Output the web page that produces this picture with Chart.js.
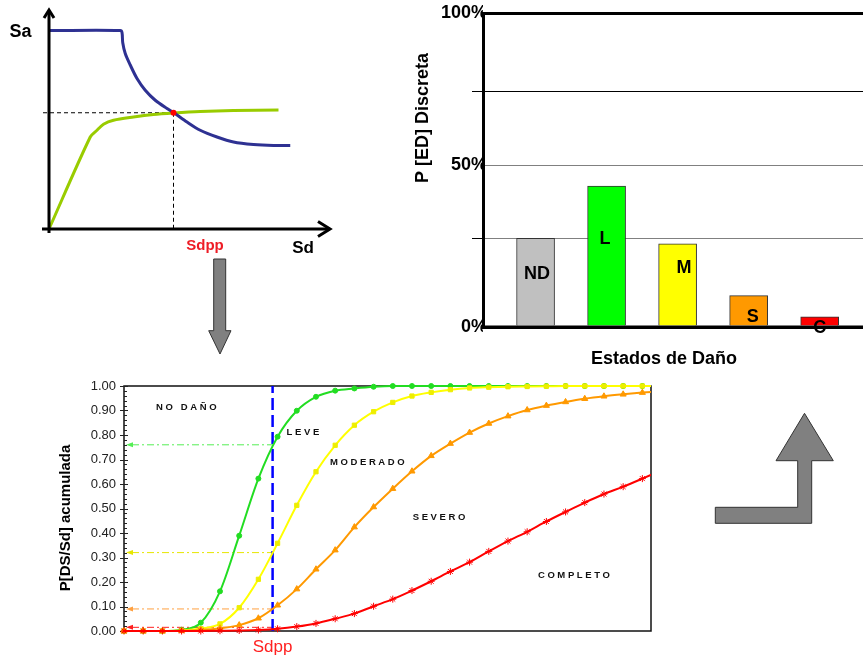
<!DOCTYPE html>
<html>
<head>
<meta charset="utf-8">
<script src="https://cdn.jsdelivr.net/npm/chart.js@4.4.0/dist/chart.umd.min.js"></script>
<style>
  body { margin: 0; background: #fff; }
  #page { position: relative; width: 863px; height: 658px; overflow: hidden; }
  canvas, svg { position: absolute; }
</style>
</head>
<body>
<div id="page">
  <canvas id="espectro" width="340" height="260" style="left:0;top:0"></canvas>
  <canvas id="discreta" width="463" height="375" style="left:400px;top:0"></canvas>
  <canvas id="fragilidad" width="680" height="290" style="left:0;top:370px"></canvas>
  <svg width="863" height="658" style="left:0;top:0;pointer-events:none">
    <polygon points="213.7,259 225.7,259 225.7,330.7 231,330.7 220,354 208.7,330.7 213.7,330.7"
             fill="#808080" stroke="#333" stroke-width="1"/>
    <polygon points="715.3,507.3 797.7,507.3 797.7,460.7 776,460.7 804.5,413.3 833.3,460.7 811.7,460.7 811.7,523.3 715.3,523.3"
             fill="#808080" stroke="#333" stroke-width="1"/>
  </svg>
</div>
<script>
const FONT = '"Liberation Sans", Arial, sans-serif';

// espectro de demanda y curva de capacidad (arriba izq.)
const demandaSd = [0, 2.85, 2.92, 2.95, 3.05, 3.25, 3.52, 3.85, 4.25, 4.72, 4.98, 5.52, 6.05, 6.72, 7.38, 8.18, 8.98, 9.65];
const demandaSa = [7.94, 7.94, 7.86, 7.45, 7.02, 6.56, 6.02, 5.55, 5.15, 4.82, 4.66, 4.28, 3.95, 3.68, 3.48, 3.38, 3.34, 3.34];
const capacidadSd = [0, 1.65, 1.92, 2.18, 2.58, 3.38, 4.18, 4.98, 6.05, 7.38, 9.18];
const capacidadSa = [0, 3.68, 3.95, 4.19, 4.35, 4.48, 4.58, 4.64, 4.70, 4.74, 4.76];
const puntoDesempeno = [4.98, 4.65];

// probabilidad discreta por estado de daño (arriba der.)
const estados = ["ND", "L", "M", "S", "C"];
const pDiscreta = [0.282, 0.449, 0.265, 0.10, 0.032];
const coloresEstado = ["#C0C0C0", "#00FF00", "#FFFF00", "#FF9900", "#FF0000"];
const ticksDiscreta = [0, 0.282, 0.515, 0.751, 1];
const etiquetasDiscreta = ["0%", "", "50%", "", "100%"];

// curvas de fragilidad (abajo)
const sd = [0, 1, 2, 3, 4, 5, 6, 7, 8, 9, 10, 11, 12, 13, 14, 15, 16, 17, 18, 19, 20, 21, 22, 23, 24, 25, 26, 27, 28];
const pLeve = [0, 0, 0, 0.005, 0.034, 0.162, 0.389, 0.622, 0.793, 0.899, 0.956, 0.981, 0.990, 0.997, 1, 1, 1, 1, 1, 1, 1, 1, 1, 1, 1, 1, 1, 1, 1];
const pModerado = [0, 0, 0, 0.002, 0.01, 0.029, 0.095, 0.211, 0.358, 0.513, 0.650, 0.758, 0.840, 0.895, 0.933, 0.959, 0.974, 0.985, 0.992, 0.995, 0.997, 0.998, 0.999, 1, 1, 1, 1, 1, 1];
const pSevero = [0, 0, 0, 0.001, 0.004, 0.011, 0.024, 0.052, 0.105, 0.171, 0.252, 0.33, 0.424, 0.506, 0.581, 0.652, 0.715, 0.765, 0.810, 0.847, 0.877, 0.902, 0.920, 0.935, 0.948, 0.958, 0.966, 0.973, 0.979];
const pCompleto = [0, 0, 0, 0, 0, 0.001, 0.002, 0.004, 0.009, 0.018, 0.031, 0.05, 0.071, 0.101, 0.130, 0.165, 0.203, 0.243, 0.281, 0.325, 0.367, 0.405, 0.447, 0.486, 0.524, 0.559, 0.589, 0.622, 0.656];
const sdpp = 7.74;
const pEnSdpp = [0.76, 0.32, 0.09, 0.015];
const zonas = ["NO DAÑO", "LEVE", "MODERADO", "SEVERO", "COMPLETO"];

const toXY = (xs, ys) => xs.map((v, i) => ({ x: v, y: ys[i] }));

// ---------- espectro ----------
const espectroDeco = {
  id: "espectroDeco",
  beforeDatasetsDraw(chart) {
    const { ctx, scales: { x, y } } = chart;
    const ox = x.getPixelForValue(0), oy = y.getPixelForValue(0);
    const px = x.getPixelForValue(puntoDesempeno[0]), py = y.getPixelForValue(puntoDesempeno[1]);
    ctx.save();
    ctx.strokeStyle = "#000";
    ctx.lineWidth = 1;
    ctx.setLineDash([4, 3]);
    ctx.beginPath();
    ctx.moveTo(ox - 6, py); ctx.lineTo(px, py);
    ctx.moveTo(px, py); ctx.lineTo(px, oy);
    ctx.stroke();
    ctx.restore();
  },
  afterDatasetsDraw(chart) {
    const { ctx, chartArea: a, scales: { x, y } } = chart;
    const ox = x.getPixelForValue(0), oy = y.getPixelForValue(0);
    const px = x.getPixelForValue(puntoDesempeno[0]), py = y.getPixelForValue(puntoDesempeno[1]);
    ctx.save();
    ctx.strokeStyle = "#000";
    ctx.lineWidth = 3;
    ctx.beginPath();
    ctx.moveTo(ox, oy + 4); ctx.lineTo(ox, a.top);
    ctx.moveTo(ox - 7, oy); ctx.lineTo(a.right, oy);
    ctx.stroke();
    ctx.beginPath();
    ctx.moveTo(ox - 5, a.top + 7); ctx.lineTo(ox, a.top - 1); ctx.lineTo(ox + 5, a.top + 7);
    ctx.moveTo(a.right - 12, oy - 7.5); ctx.lineTo(a.right, oy); ctx.lineTo(a.right - 12, oy + 7.5);
    ctx.stroke();
    ctx.fillStyle = "#FF0000";
    ctx.beginPath(); ctx.arc(px, py, 3, 0, Math.PI * 2); ctx.fill();

    ctx.textAlign = "center";
    ctx.textBaseline = "middle";
    ctx.fillStyle = "#000";
    ctx.font = "bold 18px " + FONT;
    ctx.fillText("Sa", 20.5, 32);
    ctx.font = "bold 17px " + FONT;
    ctx.fillText("Sd", 303, 248);
    ctx.fillStyle = "#EE1C25";
    ctx.font = "bold 15px " + FONT;
    ctx.fillText("Sdpp", 205, 245.5);
    ctx.restore();
  }
};

new Chart(document.getElementById("espectro"), {
  type: "scatter",
  data: {
    datasets: [
      { data: toXY(demandaSd, demandaSa), borderColor: "#2E3192", borderWidth: 3, tension: 0.3, pointRadius: 0, showLine: true, clip: false },
      { data: toXY(capacidadSd, capacidadSa), borderColor: "#99CC00", borderWidth: 3, tension: 0.3, pointRadius: 0, showLine: true, clip: false }
    ]
  },
  options: {
    responsive: false,
    animation: false,
    layout: { padding: { left: 49, right: 10, top: 11, bottom: 31 } },
    scales: {
      x: { type: "linear", display: false, min: 0, max: 11.24 },
      y: { type: "linear", display: false, min: 0, max: 8.72 }
    },
    plugins: { legend: { display: false }, tooltip: { enabled: false } }
  },
  plugins: [espectroDeco]
});

// ---------- discreta ----------
const discretaDeco = {
  id: "discretaDeco",
  afterDatasetsDraw(chart, args, opts) {
    const { ctx, chartArea: a, scales: { y } } = chart;
    const meta = chart.getDatasetMeta(0);
    ctx.save();
    ctx.strokeStyle = "#000";
    ctx.lineWidth = 3;
    const by = y.getPixelForValue(0);
    ctx.beginPath(); ctx.moveTo(a.left - 1, by); ctx.lineTo(a.right, by); ctx.stroke();

    ctx.fillStyle = "#000";
    ctx.font = "bold 18px " + FONT;
    ctx.textAlign = "center";
    ctx.textBaseline = "middle";
    meta.data.forEach((bar, i) => {
      ctx.fillText(estados[i], bar.x + opts.dx[i], y.getPixelForValue(opts.labelAt[i]));
    });
    ctx.fillText("Estados de Daño", 264, 359);
    ctx.translate(23, 118);
    ctx.rotate(-Math.PI / 2);
    ctx.fillText("P [ED] Discreta", 0, 0);
    ctx.restore();
  }
};

const lineaDiscreta = (v, ancho, fino) => (v === 0 || v === 1 ? ancho : fino);

new Chart(document.getElementById("discreta"), {
  type: "bar",
  data: {
    datasets: [{
      data: estados.map((e, i) => ({ x: i + 1, y: pDiscreta[i] })),
      backgroundColor: coloresEstado,
      borderColor: "#333",
      borderWidth: 1,
      barThickness: 38
    }]
  },
  options: {
    responsive: false,
    animation: false,
    layout: { padding: { left: 0, top: 13, right: 0, bottom: 48 } },
    scales: {
      x: { type: "linear", display: false, offset: false, min: 0.26, max: 5.61 },
      y: {
        min: 0,
        max: 1,
        afterFit: (s) => { s.width = 83; },
        afterBuildTicks: (s) => { s.ticks = ticksDiscreta.map((v) => ({ value: v })); },
        ticks: {
          padding: -15,
          color: "#000",
          font: { family: FONT, size: 18, weight: "bold" },
          callback: (v) => etiquetasDiscreta[ticksDiscreta.indexOf(v)]
        },
        grid: {
          drawTicks: true,
          tickLength: 11,
          color: (c) => (c.tick.value === 0.515 || c.tick.value === 0.282 ? "#808080" : "#000"),
          lineWidth: (c) => lineaDiscreta(c.tick.value, 3, 1),
          tickColor: (c) => (c.tick.value === 0.751 || c.tick.value === 0.282 ? "#000" : "rgba(0,0,0,0)"),
          tickWidth: 1
        },
        border: { display: true, width: 3, color: "#000" }
      }
    },
    plugins: {
      legend: { display: false },
      tooltip: { enabled: false },
      discretaDeco: { labelAt: [0.169, 0.281, 0.1875, 0.032, -0.003], dx: [1.5, -1.5, 6.5, 4, 0] }
    }
  },
  plugins: [discretaDeco]
});

// ---------- fragilidad ----------
const fragilidadDeco = {
  id: "fragilidadDeco",
  beforeDatasetsDraw(chart, args, opts) {
    const { ctx, chartArea: a, scales: { x, y } } = chart;
    ctx.save();
    ctx.strokeStyle = "#111";
    ctx.lineWidth = 1.5;
    ctx.strokeRect(a.left, a.top, a.right - a.left, a.bottom - a.top);

    ctx.lineWidth = 1;
    ctx.strokeStyle = "#222";
    for (let k = 0; k <= 50; k++) {
      const py = Math.round(y.getPixelForValue(k / 50)) + 0.5;
      const mayor = k % 5 === 0;
      ctx.beginPath();
      ctx.moveTo(a.left - (mayor ? 4 : 0), py);
      ctx.lineTo(a.left + (mayor ? 4 : 3), py);
      ctx.stroke();
    }

    const xs = x.getPixelForValue(sdpp);
    pEnSdpp.forEach((p, i) => {
      const py = y.getPixelForValue(p);
      ctx.strokeStyle = opts.guias[i];
      ctx.fillStyle = opts.guias[i];
      ctx.lineWidth = 1;
      ctx.setLineDash([7, 3, 2, 3]);
      ctx.beginPath(); ctx.moveTo(a.left + 8, py); ctx.lineTo(xs, py); ctx.stroke();
      ctx.setLineDash([]);
      ctx.beginPath();
      ctx.moveTo(a.left + 2, py); ctx.lineTo(a.left + 9, py - 2.5); ctx.lineTo(a.left + 9, py + 2.5);
      ctx.closePath(); ctx.fill();
    });

    ctx.strokeStyle = "#0000FF";
    ctx.lineWidth = 2.5;
    ctx.setLineDash([12, 5]);
    ctx.beginPath(); ctx.moveTo(xs, a.bottom); ctx.lineTo(xs, a.top); ctx.stroke();
    ctx.restore();
  },
  afterDraw(chart, args, opts) {
    const { ctx, scales: { x, y } } = chart;
    ctx.save();
    ctx.fillStyle = "#111";
    ctx.font = "bold 9.5px " + FONT;
    ctx.textAlign = "left";
    ctx.textBaseline = "middle";
    ctx.letterSpacing = "2.6px";
    zonas.forEach((z, i) => {
      const [zx, zy] = opts.posZonas[i];
      ctx.fillText(z, x.getPixelForValue(zx), y.getPixelForValue(zy));
    });
    ctx.letterSpacing = "0px";
    ctx.textAlign = "center";
    ctx.fillStyle = "#FF2020";
    ctx.font = "17px " + FONT;
    ctx.fillText("Sdpp", x.getPixelForValue(sdpp), 277.5);
    ctx.fillStyle = "#000";
    ctx.font = "bold 15px " + FONT;
    ctx.translate(66, 148);
    ctx.rotate(-Math.PI / 2);
    ctx.fillText("P[DS/Sd] acumulada", 0, 0);
    ctx.restore();
  }
};

const curva = (ys, color, estilo, radio, orden, borde) => ({
  data: toXY(sd, ys),
  borderColor: color,
  backgroundColor: borde || color,
  pointBorderColor: borde || color,
  borderWidth: 2,
  pointStyle: estilo,
  pointRadius: radio,
  pointBorderWidth: 1,
  cubicInterpolationMode: "monotone",
  order: orden,
  clip: { left: 6, top: 6, right: 0, bottom: 6 }
});

new Chart(document.getElementById("fragilidad"), {
  type: "line",
  data: {
    datasets: [
      curva(pCompleto, "#FF0000", "star", 3.5, 0),
      curva(pSevero, "#FF9900", "triangle", 3.5, 1),
      curva(pModerado, "#FFFF00", "rect", 3, 2, "#EEEE00"),
      curva(pLeve, "#22DD22", "circle", 2.5, 3)
    ]
  },
  options: {
    responsive: false,
    animation: false,
    layout: { padding: { left: 0, top: 16, right: 29, bottom: 29 } },
    scales: {
      x: { type: "linear", display: false, min: 0, max: 27.45 },
      y: {
        min: 0,
        max: 1,
        afterFit: (s) => { s.width = 124; },
        ticks: {
          stepSize: 0.1,
          padding: 8,
          color: "#222",
          font: { family: FONT, size: 13 },
          callback: (v) => v.toFixed(2)
        },
        grid: { display: false, drawTicks: false },
        border: { display: false }
      }
    },
    plugins: {
      legend: { display: false },
      tooltip: { enabled: false },
      fragilidadDeco: {
        guias: ["#55EE55", "#E6E600", "#FFA040", "#FF2020"],
        posZonas: [[1.67, 0.911], [8.47, 0.812], [10.73, 0.687], [15.04, 0.462], [21.56, 0.226]]
      }
    }
  },
  plugins: [fragilidadDeco]
});
</script>
</body>
</html>
